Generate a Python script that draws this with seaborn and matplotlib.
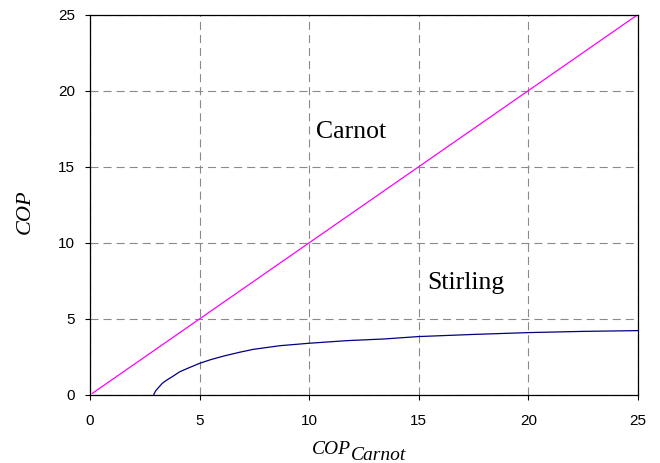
import matplotlib
matplotlib.use("Agg")
import matplotlib.pyplot as plt
import seaborn as sns
import pandas as pd

# Data
carnot_x = [0.1, 25.0]
carnot_y = [0.1, 25.0]

stirling_x = [2.9, 2.95, 3.0, 3.1, 3.3, 3.5, 3.75, 4.1, 4.5, 5.0, 5.5, 6.1, 6.8,
              7.45, 8.67, 10.0, 11.7, 13.4, 15.0, 17.5, 20.0, 22.5, 25.0]
stirling_y = [0.0, 0.15, 0.28, 0.45, 0.77, 0.98, 1.2, 1.53, 1.78, 2.08, 2.32, 2.56, 2.8,
              3.0, 3.24, 3.4, 3.57, 3.68, 3.84, 3.98, 4.1, 4.18, 4.23]

ticks = [0, 5, 10, 15, 20, 25]

sns.set_style("white")
plt.rcParams['font.family'] = ['Liberation Sans', 'DejaVu Sans']
plt.rcParams['lines.scale_dashes'] = False
plt.rcParams['text.color'] = 'black'

fig = plt.figure(figsize=(6.6, 4.63), dpi=100)
ax = fig.add_axes([90/660, 1-395/463, (638-90)/660, (395-14.5)/463])

df_c = pd.DataFrame({"x": carnot_x, "y": carnot_y})
df_s = pd.DataFrame({"x": stirling_x, "y": stirling_y})
sns.lineplot(data=df_c, x="x", y="y", ax=ax, color="#FF00FF", linewidth=0.9)
sns.lineplot(data=df_s, x="x", y="y", ax=ax, color="#000080", linewidth=0.9)

ax.set_xlim(0, 25)
ax.set_ylim(0, 25)
ax.set_xticks(ticks)
ax.set_yticks(ticks)
ax.set_xticklabels([str(t) for t in ticks])
ax.set_yticklabels([str(t) for t in ticks])
ax.tick_params(axis='both', direction='out', length=3.6, width=0.8, colors='black',
               labelsize=11, bottom=True, left=True)
ax.tick_params(axis='x', pad=10)
ax.tick_params(axis='y', pad=7)

ax.grid(True, color='#8a8a8a', linestyle=(0, (5.8, 3.6)), linewidth=0.8)
ax.set_axisbelow(True)
for s in ax.spines.values():
    s.set_color('black')
    s.set_linewidth(0.9)

ax.set_xlabel("")
ax.set_ylabel("")

serif = ['Liberation Serif', 'DejaVu Serif']
ax.text(10.31, 16.9, "Carnot", family=serif, fontsize=18.5, color='black',
        ha='left', va='baseline')
ax.text(15.37, 6.96, "Stirling", family=serif, fontsize=18.5, color='black',
        ha='left', va='baseline')

fig.text(350.5/660, 1-454/463, "COP", family=serif, style='italic', fontsize=14,
         color='black', ha='right', va='baseline')
fig.text(351/660, 1-460.5/463, "Carnot", family=serif, style='italic', fontsize=14,
         color='black', ha='left', va='baseline')
fig.text(25/660, 1-212/463, "COP", family=serif, style='italic', fontsize=16,
         color='black', ha='center', va='center', rotation=90)

fig.savefig("out.png", dpi=100)
